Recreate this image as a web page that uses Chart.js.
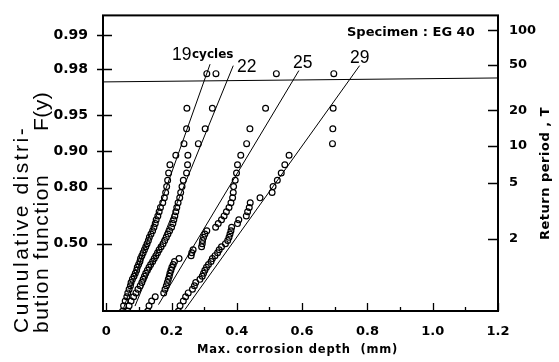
<!DOCTYPE html>
<html>
<head>
<meta charset="utf-8">
<script src="https://cdn.jsdelivr.net/npm/chart.js@4.4.1/dist/chart.umd.min.js"></script>
<style>
  html, body { margin: 0; padding: 0; background: #fff; }
  #wrap { width: 559px; height: 362px; }
</style>
</head>
<body>
<div id="wrap"><canvas id="gumbel" width="559" height="362"></canvas></div>
<script>
// reduced variate y = -ln(-ln F) of each plotted rank
const yLevels = [-1.004, -0.893, -0.797, -0.711, -0.633, -0.559, -0.489, -0.423, -0.358, -0.295,
  -0.234, -0.174, -0.114, -0.055, 0.005, 0.064, 0.123, 0.183, 0.243, 0.304,
  0.367, 0.430, 0.495, 0.561, 0.630, 0.700, 0.774, 0.850, 0.930, 1.014,
  1.102, 1.196, 1.297, 1.406, 1.525, 1.655, 1.801, 1.968, 2.162, 2.397,
  2.697, 3.114, 3.818];

// max corrosion depth (mm) for each cycle count
const depth19 = [0.050, 0.053, 0.058, 0.063, 0.066, 0.070, 0.074, 0.076, 0.080, 0.085,
  0.089, 0.093, 0.095, 0.099, 0.103, 0.105, 0.109, 0.113, 0.117, 0.121,
  0.125, 0.129, 0.132, 0.137, 0.142, 0.146, 0.150, 0.153, 0.158, 0.162,
  0.166, 0.173, 0.178, 0.182, 0.185, 0.188, 0.191, 0.195, 0.213, 0.238,
  0.246, 0.247, 0.308];
const depth22 = [0.066, 0.070, 0.076, 0.084, 0.091, 0.097, 0.104, 0.109, 0.113, 0.117,
  0.121, 0.126, 0.131, 0.136, 0.142, 0.147, 0.152, 0.157, 0.162, 0.168,
  0.174, 0.179, 0.184, 0.189, 0.194, 0.200, 0.204, 0.207, 0.210, 0.213,
  0.216, 0.220, 0.225, 0.228, 0.232, 0.236, 0.246, 0.249, 0.250, 0.282,
  0.303, 0.325, 0.336];
const depth25 = [0.127, 0.131, 0.139, 0.150, 0.176, 0.180, 0.184, 0.187, 0.190, 0.193,
  0.195, 0.198, 0.201, 0.205, 0.209, 0.223, 0.260, 0.262, 0.266, 0.292,
  0.294, 0.295, 0.298, 0.302, 0.308, 0.335, 0.343, 0.353, 0.361, 0.368,
  0.376, 0.382, 0.387, 0.389, 0.390, 0.395, 0.399, 0.402, 0.412, 0.430,
  0.440, 0.488, 0.521];
const depth29 = [0.221, 0.226, 0.236, 0.243, 0.251, 0.264, 0.270, 0.274, 0.287, 0.294,
  0.298, 0.302, 0.307, 0.313, 0.321, 0.325, 0.333, 0.341, 0.346, 0.353,
  0.365, 0.372, 0.376, 0.379, 0.382, 0.384, 0.402, 0.406, 0.429, 0.433,
  0.438, 0.441, 0.471, 0.508, 0.511, 0.524, 0.536, 0.547, 0.560, 0.693,
  0.694, 0.695, 0.697];

// fitted straight lines: [bottom, top] ends
const fit19x = [0.050, 0.318], fit19y = [-1.0, 4.01];
const fit22x = [0.088, 0.389], fit22y = [-0.9, 3.98];
const fit25x = [0.160, 0.590], fit25y = [-0.87, 3.88];
const fit29x = [0.241, 0.776], fit29y = [-0.97, 3.98];
// horizontal line across the plot
const limitX = [-0.01, 1.2], limitY = [3.65, 3.73];

// axes
const xTicks = [0, 0.2, 0.4, 0.6, 0.8, 1.0, 1.2];
const xTickLabels = ['0', '0.2', '0.4', '0.6', '0.8', '1.0', '1.2'];
const xMinor = [0.1, 0.3, 0.5, 0.7, 0.9, 1.1];
const fTickPos = [0.367, 1.500, 2.250, 2.970, 3.902, 4.600];
const fTickLabels = ['0.50', '0.80', '0.90', '0.95', '0.98', '0.99'];
const tTickLabels = ['2', '5', '10', '20', '50', '100'];

function pts(xs, ys) {
  return xs.map((x, i) => ({ x: x, y: ys[i] }));
}

function scatterSet(xs) {
  return {
    type: 'scatter',
    data: pts(xs, yLevels),
    pointRadius: 2.9,
    pointBorderWidth: 1.2,
    pointBorderColor: '#000',
    pointBackgroundColor: 'rgba(0,0,0,0)',
    order: 1
  };
}

function lineSet(xs, ys) {
  return {
    type: 'line',
    data: pts(xs, ys),
    borderColor: '#000',
    borderWidth: 1,
    pointRadius: 0,
    fill: false,
    order: 2
  };
}

function rotText(ctx, text, x, y, font, spacing) {
  ctx.save();
  ctx.translate(x, y);
  ctx.rotate(-Math.PI / 2);
  ctx.font = font;
  ctx.letterSpacing = spacing;
  ctx.textAlign = 'left';
  ctx.textBaseline = 'middle';
  ctx.fillText(text, 0, 0);
  ctx.restore();
}

function flatText(ctx, text, x, y, font, spacing) {
  ctx.save();
  ctx.font = font;
  ctx.letterSpacing = spacing || '0px';
  ctx.textAlign = 'left';
  ctx.textBaseline = 'alphabetic';
  ctx.fillText(text, x, y);
  ctx.restore();
}

const frame = {
  id: 'frame',
  afterDraw(chart) {
    const ctx = chart.ctx;
    const a = chart.chartArea;
    const sx = chart.scales.x, sy = chart.scales.y, sr = chart.scales.y2;
    ctx.save();
    ctx.strokeStyle = '#000';
    ctx.fillStyle = '#000';
    ctx.lineWidth = 2;
    ctx.strokeRect(a.left, a.top, a.right - a.left, a.bottom - a.top);

    ctx.lineWidth = 1.3;
    ctx.beginPath();
    xTicks.forEach(v => {
      const p = Math.round(sx.getPixelForValue(v)) + 0.5;
      ctx.moveTo(p, a.bottom); ctx.lineTo(p, a.bottom - 8);
    });
    xMinor.forEach(v => {
      const p = Math.round(sx.getPixelForValue(v)) + 0.5;
      ctx.moveTo(p, a.bottom); ctx.lineTo(p, a.bottom - 4);
    });
    fTickPos.forEach(v => {
      const p = Math.round(sy.getPixelForValue(v)) + 0.5;
      ctx.moveTo(a.left - 6, p); ctx.lineTo(a.left + 9, p);
    });
    fTickPos.forEach(v => {
      const p = Math.round(sr.getPixelForValue(v)) + 0.5;
      ctx.moveTo(a.right - 10, p); ctx.lineTo(a.right, p);
    });
    ctx.stroke();
    ctx.restore();

    ctx.save();
    ctx.fillStyle = '#000';
    rotText(ctx, 'Cumulative distri-', 22, 333, '21px "Liberation Sans"', '2.5px');
    rotText(ctx, 'bution function', 42, 333, '21px "Liberation Sans"', '1.5px');
    rotText(ctx, 'F(y)', 42, 131, '21px "Liberation Sans"', '0.5px');
    rotText(ctx, 'Return period , T', 546, 240, 'bold 13px "DejaVu Sans"', '0.5px');
    flatText(ctx, 'Max. corrosion depth  (mm)', 197, 353, 'bold 11.5px "DejaVu Sans"', '0.8px');
    flatText(ctx, 'Specimen : EG 40', 347, 36, 'bold 13px "DejaVu Sans"');
    flatText(ctx, '19', 172, 60, '17.5px "Liberation Sans"');
    flatText(ctx, 'cycles', 192, 58, 'bold 12px "DejaVu Sans"');
    flatText(ctx, '22', 237, 72, '17.5px "Liberation Sans"');
    flatText(ctx, '25', 293, 68, '17.5px "Liberation Sans"');
    flatText(ctx, '29', 350, 63, '17.5px "Liberation Sans"');
    ctx.restore();
  }
};

const tickFont = { family: 'DejaVu Sans', size: 13, weight: 'bold' };

new Chart(document.getElementById('gumbel'), {
  type: 'scatter',
  data: {
    datasets: [
      scatterSet(depth19),
      scatterSet(depth22),
      scatterSet(depth25),
      scatterSet(depth29),
      lineSet(fit19x, fit19y),
      lineSet(fit22x, fit22y),
      lineSet(fit25x, fit25y),
      lineSet(fit29x, fit29y),
      lineSet(limitX, limitY)
    ]
  },
  options: {
    responsive: false,
    animation: false,
    events: [],
    layout: { padding: { top: 12 } },
    plugins: {
      legend: { display: false },
      tooltip: { enabled: false }
    },
    scales: {
      x: {
        type: 'linear',
        min: -0.01,
        max: 1.2,
        afterFit: s => { s.height = 51; },
        afterBuildTicks: s => { s.ticks = xTicks.map(v => ({ value: v })); },
        grid: { display: false },
        border: { display: false },
        ticks: {
          autoSkip: false,
          maxRotation: 0,
          padding: 5,
          color: '#000',
          font: tickFont,
          callback: (v, i) => xTickLabels[i]
        }
      },
      y: {
        type: 'linear',
        position: 'left',
        min: -1,
        max: 5,
        afterFit: s => { s.width = 103; },
        afterBuildTicks: s => { s.ticks = fTickPos.map(v => ({ value: v })); },
        grid: { display: false },
        border: { display: false },
        ticks: {
          autoSkip: false,
          padding: 7,
          color: '#000',
          font: { family: 'DejaVu Sans', size: 14, weight: 'bold' },
          callback: (v, i) => fTickLabels[i]
        }
      },
      y2: {
        type: 'linear',
        position: 'right',
        min: -1.1,
        max: 4.9,
        afterFit: s => { s.width = 61; },
        afterBuildTicks: s => { s.ticks = fTickPos.map(v => ({ value: v })); },
        grid: { display: false },
        border: { display: false },
        ticks: {
          autoSkip: false,
          padding: 3,
          color: '#000',
          font: tickFont,
          callback: (v, i) => tTickLabels[i]
        }
      }
    }
  },
  plugins: [frame]
});
</script>
</body>
</html>
